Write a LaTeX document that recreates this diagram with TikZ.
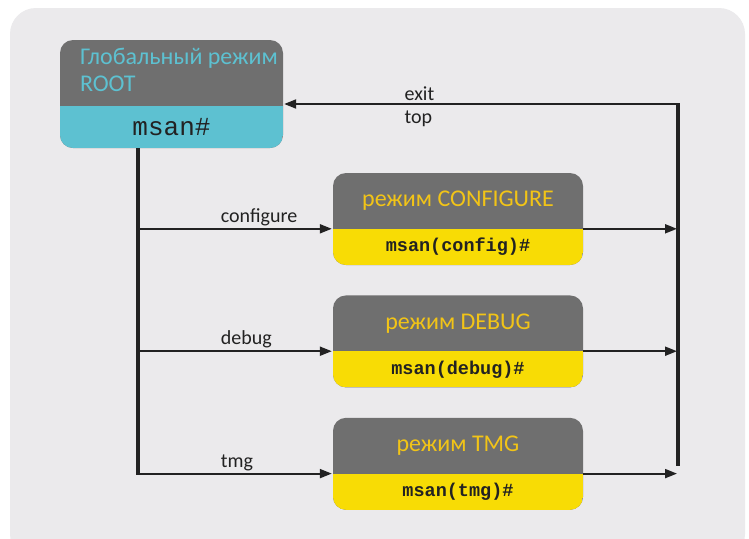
\documentclass[tikz,border=0pt]{standalone}
\usepackage{fontspec}
\setmainfont{Carlito}
\setmonofont{Liberation Mono}
\usetikzlibrary{positioning,arrows.meta}
\definecolor{panel}{HTML}{EBEAEC}
\definecolor{boxgray}{HTML}{6F6F6F}
\definecolor{rootcyan}{HTML}{5DC1D1}
\definecolor{modeyellow}{HTML}{F8DC05}
\definecolor{titleyellow}{HTML}{F2C417}
\definecolor{inkdark}{HTML}{222222}

\begin{document}
\begin{tikzpicture}[x=1pt,y=1pt,node distance=30pt,
    modebox/.style 2 args={rounded corners=13pt,fill=boxgray,inner sep=0pt,
      minimum width=250pt,minimum height=92pt,
      path picture={\fill[#1,sharp corners] (path picture bounding box.south west)
        rectangle ([yshift=#2]path picture bounding box.south east);}},
    prompt/.style={anchor=south,inner sep=0pt,minimum width=250pt,minimum height=36pt,
      text=inkdark,font=\ttfamily\bfseries\fontsize{18.5}{18.5}\selectfont},
    title/.style={text=titleyellow,font=\fontsize{24}{24}\selectfont},
    cmd/.style={text=inkdark,font=\fontsize{20}{20}\selectfont,inner sep=2pt},
    arrow/.style={draw=inkdark,line width=2pt,-{Triangle[length=12pt,width=9pt]},shorten >=1pt},
    trunk/.style={draw=inkdark,line width=4pt}]

  \useasboundingbox (0,0) rectangle (749,-538);
  \fill[white] (0,0) rectangle (749,-538);
  \fill[panel,rounded corners=26pt] (10,-8) rectangle (745,-560);

  % root mode
  \node[modebox={rootcyan}{42pt},minimum width=223pt,minimum height=108pt] (root) at (171.5,-94) {};
  \node[anchor=north west,align=left,inner sep=0pt,text=rootcyan,
        font=\fontsize{24}{27}\selectfont] (roott) at ([xshift=20pt,yshift=-8pt]root.north west)
        {Глобальный режим\\ROOT};
  \node[prompt,minimum width=223pt,minimum height=42pt,
        font=\ttfamily\fontsize{26}{26}\selectfont] (rootp) at (root.south) {msan\#};

  % sub modes
  \node[modebox={modeyellow}{36pt}] (conf) at (458,-219) {};
  \node[modebox={modeyellow}{36pt},below=of conf] (debug) {};
  \node[modebox={modeyellow}{36pt},below=of debug] (tmg) {};

  \node[title] at ([yshift=-28pt]conf.north) {режим CONFIGURE};
  \node[title] at ([yshift=-28pt]debug.north) {режим DEBUG};
  \node[title] at ([yshift=-28pt]tmg.north) {режим TMG};

  \node[prompt] (confp) at (conf.south) {msan(config)\#};
  \node[prompt] (debugp) at (debug.south) {msan(debug)\#};
  \node[prompt] (tmgp) at (tmg.south) {msan(tmg)\#};

  % trunks
  \coordinate (lbot) at (138,-475);
  \coordinate (rtop) at (678,-104);
  \coordinate (rbot) at (678,-466);
  \draw[trunk] (root.south -| lbot) -- (lbot);
  \draw[trunk] ([yshift=1pt]rtop) -- (rbot);

  % commands
  \draw[arrow] (lbot |- confp.north) -- (confp.north west)
    node[cmd,pos=0.41,anchor=south west] {configure};
  \draw[arrow] (lbot |- debugp.north) -- (debugp.north west)
    node[cmd,pos=0.41,anchor=south west] {debug};
  \draw[arrow] (lbot |- tmgp.north) -- (tmgp.north west)
    node[cmd,pos=0.41,anchor=south west] {tmg};

  \draw[arrow] (confp.north east) -- (rtop |- confp.north east);
  \draw[arrow] (debugp.north east) -- (rtop |- debugp.north east);
  \draw[arrow] (tmgp.north east) -- (rtop |- tmgp.north east);

  \draw[arrow] (rtop) -- (rtop -| root.east)
    node[cmd,pos=0.70,anchor=south west] {exit}
    node[cmd,pos=0.70,anchor=north west,yshift=-4pt] {top};
\end{tikzpicture}
\end{document}
